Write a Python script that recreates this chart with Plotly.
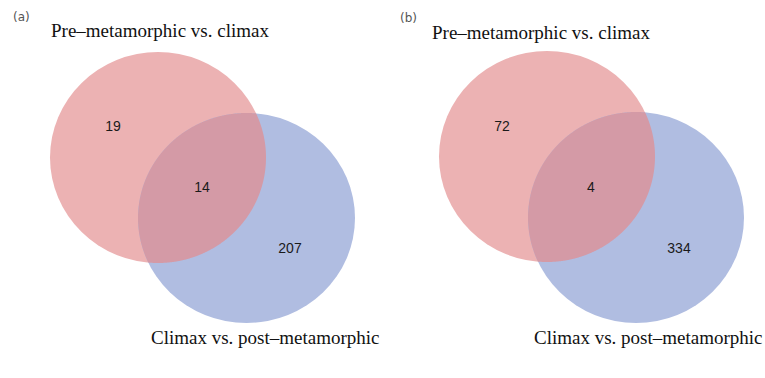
import numpy as np
import plotly.graph_objects as go

# ---- data ----
panel_tags = ["(a)", "(b)"]
set_a_label = "Pre–metamorphic vs. climax"
set_b_label = "Climax vs. post–metamorphic"
only_a = [19, 72]
shared = [14, 4]
only_b = [207, 334]

# ---- layout geometry (pixel space) ----
W, H = 765, 378
panels = [
    dict(red=(50, 52, 266, 263), blue=(138, 113, 355, 323),
         tag=(21, 17), top=(160, 30), bottom=(265, 337),
         pos_a=(113, 127), pos_ab=(202, 188), pos_b=(290, 249)),
    dict(red=(439, 51, 655, 262), blue=(528, 112, 744, 323),
         tag=(408, 18), top=(541, 32), bottom=(648, 337),
         pos_a=(502, 127), pos_ab=(591, 188), pos_b=(679, 249)),
]

RED = "#ECB2B3"
BLUE = "#B0BDE1"
LENS = "#D49AA6"


def ellipse_pts(box, n=1440):
    x0, y0, x1, y1 = box
    cx, cy, rx, ry = (x0 + x1) / 2, (y0 + y1) / 2, (x1 - x0) / 2, (y1 - y0) / 2
    t = np.linspace(0, 2 * np.pi, n, endpoint=False)
    return cx + rx * np.cos(t), cy + ry * np.sin(t), (cx, cy, rx, ry)


def inside(px, py, e):
    cx, cy, rx, ry = e
    return ((px - cx) / rx) ** 2 + ((py - cy) / ry) ** 2 <= 1.0


def lens_path(b1, b2):
    x1, y1, e1 = ellipse_pts(b1)
    x2, y2, e2 = ellipse_pts(b2)
    m1 = inside(x1, y1, e2)
    m2 = inside(x2, y2, e1)
    px = np.concatenate([x1[m1], x2[m2]])
    py = np.concatenate([y1[m1], y2[m2]])
    cx, cy = px.mean(), py.mean()
    order = np.argsort(np.arctan2(py - cy, px - cx))
    px, py = px[order], py[order]
    d = "M " + " L ".join(f"{a:.2f},{b:.2f}" for a, b in zip(px, py)) + " Z"
    return d


fig = go.Figure()
shapes = []
annotations = []
for i, p in enumerate(panels):
    for box, col in ((p["red"], RED), (p["blue"], BLUE)):
        shapes.append(dict(type="circle", xref="x", yref="y",
                           x0=box[0], y0=box[1], x1=box[2], y1=box[3],
                           fillcolor=col, line=dict(width=0), layer="below"))
    shapes.append(dict(type="path", xref="x", yref="y",
                       path=lens_path(p["red"], p["blue"]),
                       fillcolor=LENS, line=dict(width=0), layer="below"))

    fig.add_trace(go.Scatter(
        x=[p["pos_a"][0], p["pos_ab"][0], p["pos_b"][0]],
        y=[p["pos_a"][1], p["pos_ab"][1], p["pos_b"][1]],
        mode="text",
        text=[str(only_a[i]), str(shared[i]), str(only_b[i])],
        textposition="middle center",
        textfont=dict(family="Liberation Sans, Arial, sans-serif", size=14, color="#1a1a1a"),
        hoverinfo="skip", showlegend=False))

    annotations.append(dict(x=p["tag"][0], y=p["tag"][1], xref="x", yref="y",
                            text=panel_tags[i], showarrow=False,
                            font=dict(family="DejaVu Sans, sans-serif", size=12, color="#555555"),
                            xanchor="center", yanchor="middle"))
    annotations.append(dict(x=p["top"][0], y=p["top"][1], xref="x", yref="y",
                            text=set_a_label, showarrow=False,
                            font=dict(family="Liberation Serif, Times New Roman, serif", size=19, color="#111111"),
                            xanchor="center", yanchor="middle"))
    annotations.append(dict(x=p["bottom"][0], y=p["bottom"][1], xref="x", yref="y",
                            text=set_b_label, showarrow=False,
                            font=dict(family="Liberation Serif, Times New Roman, serif", size=19, color="#111111"),
                            xanchor="center", yanchor="middle"))

fig.update_layout(
    width=W, height=H,
    margin=dict(l=0, r=0, t=0, b=0),
    paper_bgcolor="white", plot_bgcolor="white",
    shapes=shapes, annotations=annotations,
    xaxis=dict(range=[0, W], visible=False, fixedrange=True),
    yaxis=dict(range=[H, 0], visible=False, fixedrange=True),
)
fig.write_html(
    "out.html",
    config={"displayModeBar": False},
    post_script="document.body.style.margin='0';document.body.style.overflow='hidden';",
)
